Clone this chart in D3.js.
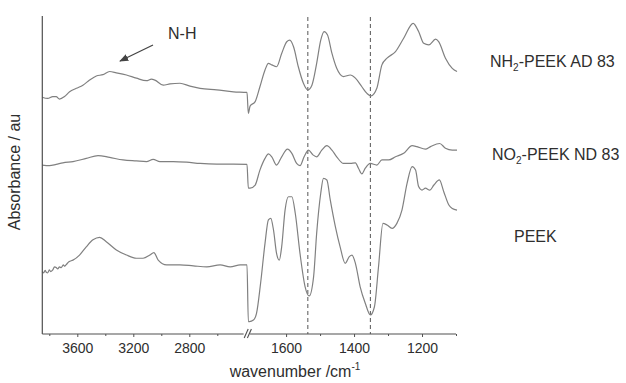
<!DOCTYPE html>
<html>
<head>
<meta charset="utf-8">
<script src="https://cdn.jsdelivr.net/npm/d3@7"></script>
<style>
  body { margin: 0; background: #fff; }
  svg { display: block; font-family: "Liberation Sans", Arial, sans-serif; }
</style>
</head>
<body>
<svg id="chart" width="626" height="383"></svg>
<script>
// spectra: [wavenumber cm-1, absorbance a.u.], high-wavenumber part and fingerprint part
const nh2High = [[3851,74.7],[3811,74.3],[3775,74.9],[3751,74.9],[3727,74.1],[3691,74.9],[3655,76.4],
  [3607,77.5],[3560,78.5],[3512,80.1],[3464,81.4],[3417,81.8],[3369,82.8],[3321,82.4],[3249,81.7],
  [3178,80.7],[3106,79.9],[3070,80.4],[3046,80.1],[2986,78.5],[2938,78.9],[2867,79.1],[2795,78.2],
  [2723,77.5],[2604,77.0],[2484,76.4],[2388,76.2]];
const nh2Low = [[1711,69.6],[1706,71.9],[1691,73.3],[1677,78.0],[1662,83.3],[1652,85.4],[1642,84.9],
  [1628,84.3],[1613,88.5],[1598,92.2],[1589,92.7],[1578,90.6],[1564,84.3],[1549,79.1],[1536,77.0],
  [1524,78.5],[1510,85.4],[1498,92.7],[1488,95.4],[1478,94.3],[1465,88.5],[1451,83.8],[1431,81.2],
  [1411,81.7],[1396,80.7],[1377,78.0],[1362,75.9],[1350,75.1],[1333,77.5],[1318,84.9],[1303,87.0],
  [1278,89.1],[1254,93.3],[1226,98.0],[1210,95.4],[1195,91.7],[1180,91.2],[1160,93.0],[1151,92.2],
  [1131,87.0],[1111,83.8],[1097,82.8]];

const no2High = [[3851,53.3],[3799,53.1],[3751,53.5],[3703,54.0],[3631,54.4],[3536,55.4],[3452,56.3],
  [3369,55.7],[3273,54.9],[3178,54.6],[3106,54.4],[3058,55.1],[3010,54.4],[2914,54.4],[2819,54.2],
  [2723,53.8],[2604,53.6],[2484,53.6],[2388,53.5]];
const no2Low = [[1711,46.0],[1706,46.0],[1691,47.0],[1677,51.7],[1662,55.4],[1652,56.8],[1642,55.9],
  [1628,53.3],[1613,55.9],[1596,58.3],[1583,57.0],[1569,53.8],[1559,53.1],[1547,55.9],[1534,58.0],
  [1521,56.5],[1510,55.9],[1495,58.0],[1480,59.4],[1465,58.0],[1451,55.9],[1431,53.8],[1411,53.8],
  [1396,54.0],[1387,52.3],[1377,50.5],[1367,52.3],[1352,53.8],[1333,53.3],[1318,54.9],[1298,54.9],
  [1278,55.9],[1254,57.0],[1229,59.4],[1215,59.1],[1190,58.3],[1175,59.1],[1148,60.1],[1131,58.6],
  [1111,58.0],[1097,58.0]];

const peekHigh = [[3851,19.7],[3840,19.3],[3830,20.1],[3820,19.4],[3811,19.3],[3800,20.2],[3790,19.7],
  [3775,20.2],[3763,21.2],[3751,21.0],[3740,20.5],[3727,21.2],[3715,20.9],[3700,21.8],[3690,21.4],
  [3679,21.9],[3660,22.8],[3631,23.3],[3584,24.9],[3536,27.5],[3488,29.7],[3440,30.5],[3393,29.1],
  [3321,26.5],[3249,24.9],[3178,23.9],[3130,23.9],[3082,24.9],[3053,25.7],[3022,23.3],[2962,21.8],
  [2867,21.8],[2771,21.5],[2675,21.2],[2580,21.8],[2508,21.2],[2436,21.8],[2388,21.8]];
const peekLow = [[1711,3.9],[1708,3.9],[1696,4.4],[1687,6.5],[1675,16.0],[1662,28.6],[1652,36.0],
  [1645,36.5],[1637,32.8],[1628,25.4],[1620,23.3],[1613,27.5],[1603,39.1],[1593,43.3],[1583,43.3],
  [1573,38.1],[1559,25.4],[1544,14.9],[1532,12.0],[1519,18.1],[1510,31.8],[1498,44.4],[1490,49.1],
  [1480,48.6],[1470,42.3],[1455,33.9],[1441,27.5],[1426,22.3],[1414,24.4],[1406,24.9],[1396,22.3],
  [1382,14.9],[1367,9.7],[1352,6.0],[1340,8.6],[1328,21.2],[1315,34.9],[1303,34.4],[1288,33.3],
  [1274,34.9],[1259,39.1],[1244,47.5],[1229,52.8],[1219,51.7],[1210,46.5],[1200,45.4],[1190,46.0],
  [1177,45.4],[1165,47.0],[1149,48.6],[1136,44.9],[1121,40.7],[1111,39.6],[1097,39.1]];

const markerLines = [1536, 1352];
const leftTicks = [3600, 3200, 2800];
const leftMinor = [3800, 3400, 3000, 2600];
const rightTicks = [1600, 1400, 1200];
const rightMinor = [1500, 1300, 1100];

const svg = d3.select('#chart');
const textColor = '#2e2e2e';
const axisColor = '#505050';

const xL = d3.scaleLinear().domain([3850, 2390]).range([42.3, 246.7]);
const xR = d3.scaleLinear().domain([1710, 1100]).range([248.7, 456]);
const y = d3.scaleLinear().domain([0, 100]).range([334, 17]);
const x = w => (w > 2000 ? xL(w) : xR(w));

// dashed guide lines
svg.append('g')
  .selectAll('line')
  .data(markerLines)
  .enter()
  .append('line')
  .attr('x1', d => xR(d)).attr('x2', d => xR(d))
  .attr('y1', y(100)).attr('y2', y(0))
  .attr('stroke', '#555')
  .attr('stroke-width', 1)
  .attr('stroke-dasharray', '4,3');

// spectra
const line = d3.line()
  .x(d => x(d[0]))
  .y(d => y(d[1]))
  .curve(d3.curveMonotoneX);

const spectra = [nh2High.concat(nh2Low), no2High.concat(no2Low), peekHigh.concat(peekLow)];
svg.append('g')
  .selectAll('path')
  .data(spectra)
  .enter()
  .append('path')
  .attr('d', line)
  .attr('fill', 'none')
  .attr('stroke', '#808080')
  .attr('stroke-width', 1.2);

// axes
function bottomAxis(scale, major, minor, from, to) {
  const g = svg.append('g').attr('transform', 'translate(0,' + y(0) + ')');
  g.append('g')
    .call(d3.axisBottom(scale).tickValues(major).tickSize(3).tickSizeOuter(0).tickFormat(d3.format('d')))
    .call(a => a.select('.domain').remove())
    .call(a => a.selectAll('line').attr('stroke', axisColor))
    .call(a => a.selectAll('text')
      .attr('fill', textColor)
      .attr('font-size', 14)
      .attr('font-family', '"Liberation Sans", Arial, sans-serif')
      .attr('dy', '0.95em'));
  g.append('g')
    .call(d3.axisBottom(scale).tickValues(minor).tickSize(2).tickFormat(''))
    .call(a => a.select('.domain').remove())
    .call(a => a.selectAll('line').attr('stroke', axisColor));
  g.append('line')
    .attr('x1', scale(from)).attr('x2', scale(to))
    .attr('stroke', axisColor).attr('stroke-width', 1.2);
}
bottomAxis(xL, leftTicks, leftMinor, 3850, 2412);
bottomAxis(xR, rightTicks, rightMinor, 1706, 1100);

// break marks
svg.append('g')
  .selectAll('line')
  .data([2408, 2385])
  .enter()
  .append('line')
  .attr('x1', d => xL(d)).attr('y1', y(0) + 4)
  .attr('x2', d => xL(d) + 4).attr('y2', y(0) - 5)
  .attr('stroke', axisColor)
  .attr('stroke-width', 1.1);

// y axis line
svg.append('line')
  .attr('x1', xL(3850)).attr('x2', xL(3850))
  .attr('y1', y(0)).attr('y2', y(100) - 1)
  .attr('stroke', axisColor).attr('stroke-width', 1.2);

// axis titles
const xt = svg.append('text')
  .attr('x', 295).attr('y', 377)
  .attr('text-anchor', 'middle')
  .attr('font-size', 16)
  .attr('fill', textColor)
  .text('wavenumber /cm');
xt.append('tspan').attr('font-size', 10).attr('dy', -7).text('-1');

svg.append('text')
  .attr('transform', 'translate(20,172) rotate(-90)')
  .attr('text-anchor', 'middle')
  .attr('font-size', 16)
  .attr('fill', textColor)
  .text('Absorbance / au');

// series labels
function label(px, py, pre, sub, post) {
  const t = svg.append('text')
    .attr('x', px).attr('y', py)
    .attr('font-size', 16)
    .attr('fill', textColor)
    .text(pre);
  if (sub) {
    t.append('tspan').attr('font-size', 10).attr('dy', 4).text(sub);
    t.append('tspan').attr('dy', -4).text(post);
  }
}
label(490, 67, 'NH', '2', '-PEEK AD 83');
label(492, 160, 'NO', '2', '-PEEK ND 83');
label(514, 242, 'PEEK');

// N-H annotation
svg.append('defs').append('marker')
  .attr('id', 'arrow')
  .attr('viewBox', '0 0 10 10')
  .attr('refX', 9).attr('refY', 5)
  .attr('markerWidth', 7).attr('markerHeight', 7)
  .attr('orient', 'auto')
  .append('path')
  .attr('d', 'M0,1L10,5L0,9Z')
  .attr('fill', '#444');

svg.append('line')
  .attr('x1', 153).attr('y1', 45)
  .attr('x2', 120).attr('y2', 61)
  .attr('stroke', '#444')
  .attr('stroke-width', 1.3)
  .attr('marker-end', 'url(#arrow)');

svg.append('text')
  .attr('x', 168).attr('y', 39)
  .attr('font-size', 16)
  .attr('fill', textColor)
  .text('N-H');
</script>
</body>
</html>
